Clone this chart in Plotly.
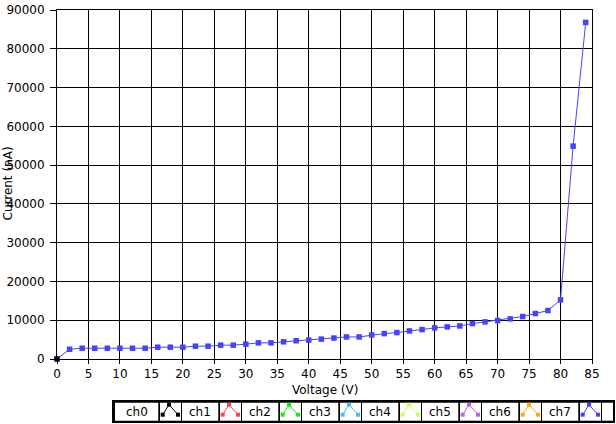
import plotly.graph_objects as go

# ---- data ----
voltage = [0, 2, 4, 6, 8, 10, 12, 14, 16, 18, 20, 22, 24, 26, 28, 30, 32, 34, 36, 38, 40,
           42, 44, 46, 48, 50, 52, 54, 56, 58, 60, 62, 64, 66, 68, 70, 72, 74, 76, 78, 80, 82, 84]
current = [0, 2520, 2780, 2780, 2780, 2780, 2780, 2780, 3040, 3040, 3040, 3300, 3300, 3570, 3570,
           3830, 4170, 4170, 4430, 4700, 4870, 5130, 5410, 5690, 5690, 6200, 6550, 6810, 7240,
           7590, 8020, 8280, 8530, 9140, 9570, 9910, 10340, 10950, 11720, 12500, 15260, 54900, 86800]
ch0_x = [0]
ch0_y = [0]
x_ticks = list(range(0, 90, 5))
y_ticks = list(range(0, 100000, 10000))
legend_names = ["ch0", "ch1", "ch2", "ch3", "ch4", "ch5", "ch6", "ch7"]
legend_colors = ["#000000", "#ff4444", "#11ee11", "#44bbff", "#ccff66", "#c060ee", "#ffaa11", "#4444ff"]

W, H = 616, 424
L, R, T, B = 57, 24, 10, 65
PW, PH = W - L - R, H - T - B

def px(x):
    return (x - L) / PW

def py(y):
    return (H - B - y) / PH

FONT = "DejaVu Sans"

fig = go.Figure()
fig.add_trace(go.Scatter(x=voltage, y=current, mode="lines+markers",
                         line=dict(color="#4444ff", width=1),
                         marker=dict(symbol="square", size=5.5, color="#4444ff"),
                         cliponaxis=False, showlegend=False))
fig.add_trace(go.Scatter(x=ch0_x, y=ch0_y, mode="markers",
                         marker=dict(symbol="square", size=5, color="#000000"),
                         cliponaxis=False, showlegend=False))

shapes = []
annotations = []
# legend frame
shapes.append(dict(type="rect", xref="paper", yref="paper", x0=px(112), x1=px(615),
                   y0=py(400), y1=py(423), fillcolor="black", line=dict(width=0), layer="above"))
cy0, cy1 = 402.7, 420.7

def cell(x0, x1):
    shapes.append(dict(type="rect", xref="paper", yref="paper", x0=px(x0), x1=px(x1),
                       y0=py(cy0), y1=py(cy1), fillcolor="white", line=dict(width=0), layer="above"))

for k, (name, col) in enumerate(zip(legend_names, legend_colors)):
    if k == 0:
        tx0, tx1 = 115, 158.3
    else:
        tx0, tx1 = 182 + 60 * (k - 1), 218.3 + 60 * (k - 1)
    cell(tx0, tx1)
    annotations.append(dict(xref="paper", yref="paper", x=px((tx0 + tx1) / 2), y=py((cy0 + cy1) / 2),
                            text=name, showarrow=False, font=dict(family=FONT, size=12, color="black"),
                            xanchor="center", yanchor="middle"))
    ix0 = 160 + 60 * k
    ix1 = ix0 + 21
    cell(ix0, ix1)
    pts = [(ix0 + 2.7, 414.7), (ix0 + 9, 404.7), (ix0 + 18, 414.7)]
    path = "M {} {} L {} {} L {} {}".format(px(pts[0][0]), py(pts[0][1]), px(pts[1][0]), py(pts[1][1]),
                                           px(pts[2][0]), py(pts[2][1]))
    shapes.append(dict(type="path", xref="paper", yref="paper", path=path,
                       line=dict(color=col, width=1), layer="above"))
    for (qx, qy) in pts:
        shapes.append(dict(type="rect", xref="paper", yref="paper", x0=px(qx - 2), x1=px(qx + 2),
                           y0=py(qy + 2), y1=py(qy - 2), fillcolor=col, line=dict(width=0), layer="above"))
cell(602, 613)

annotations.append(dict(xref="paper", yref="paper", x=px(7.5), y=py(184), text="Current (nA)",
                        textangle=-90, showarrow=False, font=dict(family=FONT, size=12, color="black"),
                        xanchor="center", yanchor="middle"))
annotations.append(dict(xref="paper", yref="paper", x=px(324.5), y=py(390), text="Voltage (V)",
                        showarrow=False, font=dict(family=FONT, size=12, color="black"),
                        xanchor="center", yanchor="middle"))

fig.update_layout(
    width=W, height=H,
    margin=dict(l=L, r=R, t=T, b=B, autoexpand=False),
    paper_bgcolor="white", plot_bgcolor="white",
    font=dict(family=FONT, size=12, color="black"),
    showlegend=False,
    shapes=shapes, annotations=annotations,
    xaxis=dict(range=[0, 85], tickvals=x_ticks, ticktext=[str(v) for v in x_ticks],
               showgrid=True, gridcolor="black", gridwidth=1,
               showline=True, linecolor="black", linewidth=1, mirror=True,
               ticks="outside", ticklen=4, tickcolor="black", zeroline=False,
               automargin=False),
    yaxis=dict(range=[0, 90000], tickvals=y_ticks, ticktext=[str(v) for v in y_ticks],
               showgrid=True, gridcolor="black", gridwidth=1,
               showline=True, linecolor="black", linewidth=1, mirror=True,
               ticks="outside", ticklen=6, tickcolor="black", zeroline=False,
               ticklabelstandoff=3, automargin=False),
)

fig.write_html("out.html", config={"displayModeBar": False},
               post_script="document.body.style.margin='0px';document.body.style.overflow='hidden';")
